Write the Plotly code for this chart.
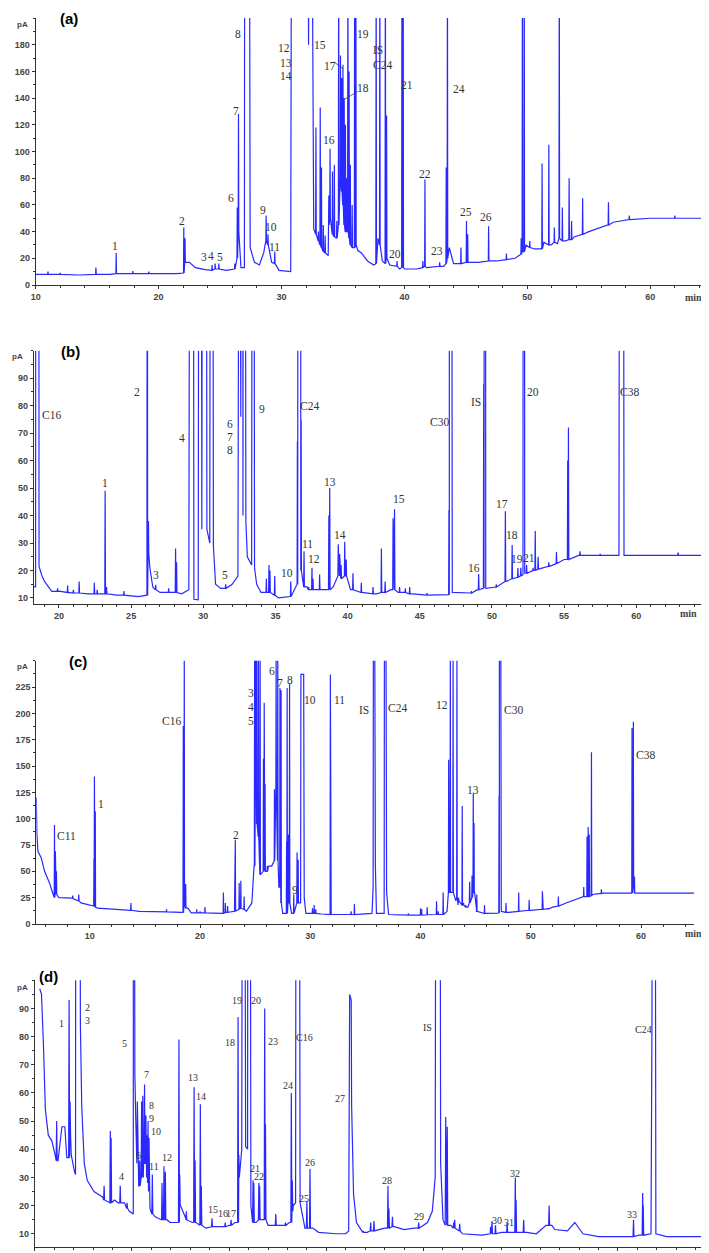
import plotly.graph_objects as go

W, H = 709, 1253
LINE_COLOUR = "rgb(40,40,255)"
AXIS_COLOUR = "#333333"
TICK_FONT = dict(family="Liberation Sans", size=9, color="#444444", weight="bold")
LABEL_FONT = "Liberation Serif"
OFF = 260  # anything above the top of an axis is clipped

# ---------------- panel (a) ----------------
# baseline points (time, signal)
a_bl_t = [10.0, 13.5, 16.0, 18.5, 21.5, 22.5, 23.0, 23.8, 25.5, 26.7,
          26.98, 27.0, 27.4, 27.45, 27.8, 28.2, 28.55, 29.2, 29.8, 30.7,
          30.75, 30.8, 32.5, 32.62, 32.7, 33.8, 36.2, 36.5, 37.0, 37.5,
          37.85, 38.2, 38.8, 39.6, 40.0, 41.0, 41.8, 43.2, 43.65, 44.0,
          45.4, 46.0, 47.5, 49.0, 49.9, 50.6, 51.35, 51.95, 52.45, 53.1,
          53.8, 55.0, 56.0, 57.0, 58.0, 60.0, 64.7]
a_bl_y = [8, 7.5, 8, 8.5, 8.5, 17, 13, 11.5, 11, 13,
          13, OFF, OFF, 28, 17, 15, 24, 17, 11, 10,
          10, OFF, OFF, 42, 40, 22, 26, 24, 18, 15,
          35, 18, 15, 12, 12, 12, 13, 14, 28, 16,
          17, 17, 18, 20, 30, 27, 32, 30, 31, 33,
          36, 40, 43, 47, 49, 50, 50]
# peaks (time, foot, apex)
a_pk_t = [11.0, 12.0, 14.9, 16.55, 17.9, 19.2, 22.05, 22.15, 24.35, 24.6,
          24.9, 26.2, 26.4, 26.5, 28.75, 28.9, 29.45, 32.2, 32.8, 33.0,
          33.15, 33.25, 33.4, 33.55, 33.85, 33.95, 34.15, 34.3, 34.5, 34.65,
          34.8, 34.9, 35.0, 35.1, 35.2, 35.3, 35.4, 35.5, 35.6, 35.75,
          35.95, 36.05, 37.7, 38.0, 38.45, 38.55, 39.4, 39.8, 39.9, 41.5,
          41.67, 42.87, 43.4, 43.5, 44.6, 45.05, 45.15, 46.85, 48.3, 49.5,
          49.6, 49.75, 50.2, 51.2, 51.75, 52.2, 52.6, 52.85, 53.4, 53.6,
          54.5, 56.6, 58.3, 62.0]
a_pk_base = [8, 8, 8, 8.5, 8.5, 8.5, 9, 17, 11, 12,
             12, 12, 20, 40, 33, 30, 16, OFF, 38, 33,
             30, 28, 25, 24, 45, 50, 38, 36, 35, 45,
             80, 70, 60, 45, 40, 40, 40, 35, 30, 28,
             28, 30, 16, 30, 16, 20, 14, 13, 13, 13,
             14, 14, 16, 20, 16, 17, 17, 18, 19, 23,
             25, 25, 28, 27, 30, 32, 35, 33, 34, 34,
             38, 45, 49, 50]
a_pk_apex = [10, 9, 13, 24, 10.5, 10, 43, 35, 15, 16,
             16, 16, 58, 128, 52, 38, 25, 180, 118, 40,
             133, 88, 45, 37, 67, 102, 85, 90, 48, OFF,
             172, 155, 165, 140, 120, 80, OFF, 160, 90, 60,
             OFF, OFF, OFF, OFF, OFF, 127, 18, OFF, OFF, 18,
             79, 17, 88, OFF, 28, 48, 38, 44, 23.5, 35,
             OFF, OFF, 33, 91, 105, 43, OFF, 58, 80, 48,
             65, 62, 52, 52]
a_lbl = ["1", "2", "3", "4", "5", "6", "7", "8", "9", "10", "11", "12", "13", "14",
         "15", "16", "17", "18", "19", "IS", "C24", "20", "21", "22", "23", "24", "25", "26"]
a_lbl_t = [16.45, 21.9, 23.72, 24.27, 25.03, 25.93, 26.26, 26.42, 28.51, 29.17,
           29.39, 30.2, 30.34, 30.34, 33.12, 33.88, 33.94, 36.6, 36.6, 37.83,
           38.24, 39.27, 40.2, 41.64, 42.68, 44.45, 44.97, 46.63]
a_lbl_y = [29.5, 47.8, 20.8, 21.5, 20.8, 65.3, 130.3, 187.8, 56.5, 43.3,
           28.5, 177.3, 166.5, 156.5, 179.5, 108.5, 164, 147.3, 187.8, 175.8,
           164.8, 23.3, 149.8, 83.5, 25.3, 146.5, 54.8, 51]
a_xticks = [10, 20, 30, 40, 50, 60]
a_yticks = [0, 20, 40, 60, 80, 100, 120, 140, 160, 180]

# ---------------- panel (b) ----------------
b_bl_t = [18.25, 18.38, 18.4, 18.6, 18.62, 18.8, 19.0, 19.5, 20.0, 22.0,
          24.0, 25.5, 26.0, 26.3, 26.5, 27.0, 28.5, 29.0, 29.08, 29.3,
          29.35, 29.65, 29.7, 29.85, 29.9, 29.95, 30.2, 30.25, 30.45, 30.5,
          30.65, 30.7, 30.85, 31.2, 32.0, 32.4, 32.5, 32.9, 32.95, 33.05,
          33.35, 33.4, 33.5, 33.55, 33.7, 34.0, 35.2, 36.0, 36.5, 36.55,
          36.75, 36.8, 37.2, 37.8, 38.6, 39.0, 39.3, 39.9, 40.2, 41.0,
          42.0, 43.0, 43.5, 44.5, 45.5, 47.0, 47.05, 47.2, 47.25, 48.2,
          49.0, 49.45, 49.47, 49.55, 49.57, 50.3, 51.0, 52.15, 52.17, 52.25,
          52.27, 53.0, 54.0, 55.0, 56.0, 58.8, 58.85, 59.1, 59.15, 64.9]
b_bl_y = [14, 14, OFF, OFF, 21.5, 18.4, 16, 12.4, 12.5, 11.5,
          11, 10.5, 11, 21, 14, 12, 11.5, 13, OFF, OFF,
          9.5, 9.3, OFF, OFF, 35, OFF, OFF, 35, 30, OFF,
          OFF, 29, 15, 13.5, 15, 18, OFF, OFF, 38, 25,
          22, OFF, OFF, 21, 15, 12, 10, 10.5, 15, OFF,
          OFF, 20, 14, 13, 13, 14, 18, 18, 13, 12,
          11.5, 13, 12, 11.5, 11, 11.2, OFF, OFF, 12, 11.8,
          13, 13.5, OFF, OFF, 13.5, 14, 16, 18.5, OFF, OFF,
          19, 20, 21.5, 24, 25.5, 25.5, OFF, OFF, 25.5, 25.5]
b_pk_t = [19.9, 20.6, 21.0, 21.4, 22.45, 22.65, 23.2, 23.3, 24.5, 26.12,
          26.2, 26.7, 27.6, 28.08, 28.15, 31.55, 32.6, 32.75, 34.37, 34.55,
          34.62, 34.95, 36.06, 36.52, 36.78, 36.98, 37.3, 37.53, 37.6, 38.06,
          38.7, 38.76, 39.35, 39.45, 39.55, 39.8, 39.9, 40.37, 40.95, 41.76,
          42.34, 42.6, 43.15, 43.25, 43.6, 44.0, 44.3, 45.5, 47.02, 48.57,
          49.08, 49.43, 50.3, 50.93, 51.4, 51.8, 52.0, 52.4, 52.85, 53.0,
          53.2, 53.94, 54.47, 55.25, 55.3, 56.1, 57.5, 62.9]
b_pk_base = [12.4, 12, 11.8, 11.8, 11.5, 11.5, 11.5, 11.5, 11, 11,
             26, 13, 12, 12, 12, 13.5, OFF, OFF, 12, 12,
             12, 11, 10.5, 15, 20, 14, 13, 13, 13, 13,
             13, 13, 18, 18, 17, 18, 18, 13, 12, 11.5,
             12, 12, 13, 13, 12, 12, 11.5, 11, 11.2, 11.8,
             13, 13.5, 14, 16, 17, 17.5, 18, 19, 20, 20,
             20.5, 21.5, 22.5, 24, 24, 25.5, 25.5, 25.5]
b_pk_apex = [13.5, 14.5, 13, 16, 15.5, 13, 49, 14, 12.5, OFF,
             38, 14.8, 13.5, 28, 23, 15, 76, 40, 17, 22,
             20, 18, 16, 67, 75, 27, 14, 21, 17, 18.5,
             40, 50, 29.5, 26, 22, 30.5, 24, 19, 15.5, 14,
             28, 16, 39, 42.3, 14, 13.5, 14, 11.8, 42, 12.5,
             18.7, 88, 15, 41.6, 29.3, 20.9, 21, 22, 21, 34.4,
             25, 23, 26.7, 60, 72, 27, 26, 26.5]
b_lbl = ["C16", "1", "2", "3", "4", "5", "6", "7", "8", "9", "10", "C24", "11",
         "12", "13", "14", "15", "C30", "16", "IS", "17", "18", "19", "21", "20", "C38"]
b_lbl_t = [19.47, 23.17, 25.4, 26.74, 28.55, 31.48, 31.87, 31.87, 31.87, 34.07,
           35.82, 37.37, 37.19, 37.67, 38.76, 39.5, 43.54, 46.38, 48.76, 48.92,
           50.7, 51.42, 51.77, 52.55, 52.85, 59.5]
b_lbl_y = [76.7, 52, 84.9, 18.2, 68.3, 18.2, 73.4, 68.6, 63.7, 78.6,
           19, 79.8, 29.6, 24.2, 52.3, 32.9, 45.9, 74.2, 20.9, 81.3,
           44.2, 32.9, 24.1, 24.5, 85.1, 85.1]
b_xticks = [20, 25, 30, 35, 40, 45, 50, 55, 60]
b_yticks = [10, 20, 30, 40, 50, 60, 70, 80, 90]

# ---------------- panel (c) ----------------
c_bl_t = [5.15, 5.2, 5.3, 5.6, 5.9, 6.35, 6.65, 7.2, 8.0, 8.5,
          9.2, 9.8, 10.7, 12.0, 13.0, 14.5, 16.0, 18.3, 18.9, 19.2,
          22.0, 24.2, 24.7, 24.9, 25.5, 26.2, 26.5, 27.15, 27.5, 28.3,
          29.12, 29.15, 29.4, 29.45, 29.6, 30.0, 31.0, 33.0, 35.6, 35.7,
          35.72, 35.85, 35.9, 36.0, 36.7, 36.72, 36.87, 36.92, 37.1, 39.0,
          42.0, 42.4, 42.6, 43.2, 43.4, 44.3, 44.5, 44.9, 45.1, 46.0,
          47.1, 47.15, 47.28, 47.32, 48.0, 50.0, 52.0, 53.2, 54.7, 55.6,
          56.5, 64.8]
c_bl_y = [120, 86, 69, 62.7, 50, 39, 29, 25, 24.7, 24,
          20, 18.4, 15, 14, 13, 12, 11.5, 11, 15, 10.5,
          10, 12, 20, 55, 47, 55, 55, 35, 10, 10,
          20, 237, 237, 25, 10, 10, 9.5, 9, 10, 36,
          OFF, OFF, 56, 10, 10, OFF, OFF, 30, 9, 8.5,
          9, 12, 30, 22, 18, 16, 20, 30, 12, 10,
          10.4, OFF, OFF, 12, 11, 13, 16, 20, 26, 28,
          29.4, 29.4]
c_pk_t = [6.8, 6.88, 6.98, 8.45, 9.0, 10.38, 10.42, 10.5, 13.73, 16.96,
          18.48, 18.57, 18.7, 19.7, 20.0, 20.45, 22.12, 22.3, 22.5, 23.15,
          23.2, 23.55, 23.7, 24.0, 24.95, 25.05, 25.15, 25.3, 25.45, 25.75,
          25.82, 25.9, 26.1, 26.75, 26.9, 27.05, 27.25, 27.35, 27.85, 27.9,
          28.0, 28.12, 28.5, 28.8, 28.9, 30.2, 30.35, 30.5, 31.82, 31.87,
          33.7, 34.0, 38.9, 40.0, 40.1, 40.6, 41.45, 41.6, 42.05, 42.55,
          42.7, 42.95, 43.3, 43.45, 43.78, 43.9, 44.1, 44.45, 44.67, 44.78,
          44.85, 45.1, 45.8, 47.12, 47.75, 48.9, 49.85, 51.05, 51.1, 51.6,
          52.5, 54.8, 55.1, 55.2, 55.3, 55.5, 56.4, 59.18, 59.3, 59.4]
c_pk_base = [25, 30, 28, 24.5, 22, 17, 17, 16, 13, 11.5,
             11, 20, 15, 10.5, 10.5, 10.5, 10, 11, 11, 12,
             12, 14, 15, 14, 55, 168, 95, 83, 47, 50,
             60, 50, 50, 60, 128, 60, 35, 20, 10, 10,
             20, 20, 10, 20, 20, 10, 10, 10, 9, 9,
             9, 9, 8.5, 8.5, 8.5, 8.8, 9, 9, 9, 30,
             30, 30, 25, 22, 18, 18, 16, 20, 25, 30,
             30, 12, 10, 10.4, 11, 12, 13, 14, 14, 14.5,
             17, 26, 26, 26, 26, 27, 29, 29.4, 40, 29.4]
c_pk_apex = [94, 69, 50, 27, 28, 62, 140, 107, 20, 14,
             188, OFF, 38, 14, 12, 16, 30, 20, 17, 47,
             80, 39, 41, 26, OFF, OFF, OFF, OFF, OFF, 157,
             210, 133, 55, 128, OFF, OFF, 224, 222, 78, 224,
             85, 228, 28, 68, 61, 15, 18, 14, 237, 237,
             12, 19, 10, 15, 14, 16, 21.5, 12, 30, 156,
             OFF, OFF, OFF, 25, 112, 20, 18, 40, 46, 124,
             96, 28, 18, 122, 20, 30, 23, 31, 30, 14,
             26, 35, 83, 92, 85, 163, 33, 186, 192, 45]
c_lbl = ["C11", "1", "C16", "2", "3", "4", "5", "6", "7", "8", "9", "10", "11",
         "IS", "C24", "12", "13", "C30", "C38"]
c_lbl_t = [7.87, 11.06, 17.42, 23.24, 24.63, 24.63, 24.63, 26.51, 27.27, 28.18,
           28.57, 30.0, 32.64, 34.85, 37.88, 41.97, 44.78, 48.39, 60.39]
c_lbl_y = [83.2, 114.2, 192.4, 84.8, 219.3, 206, 193, 240, 228.8, 232,
           32.6, 212.4, 213, 203.5, 205, 208.2, 127.5, 203.5, 160.2]
c_xticks = [10, 20, 30, 40, 50, 60]
c_yticks = [0, 25, 50, 75, 100, 125, 150, 175, 200, 225]

# ---------------- panel (d) ----------------
d_bl_t = [5.26, 5.35, 5.45, 5.55, 5.7, 5.88, 6.05, 6.2, 6.4, 6.55,
          6.65, 6.88, 7.05, 7.1, 7.12, 7.3, 7.35, 7.42, 7.55, 7.7,
          8.05, 8.5, 8.8, 9.1, 9.3, 9.62, 9.87, 10.07, 10.08, 10.12,
          10.15, 10.2, 10.35, 10.45, 10.6, 10.8, 10.93, 11.2, 11.5, 11.8,
          11.96, 12.3, 12.5, 12.8, 13.1, 13.3, 13.6, 13.8, 14.5, 15.0,
          15.3, 15.65, 15.7, 15.78, 15.85, 15.95, 15.97, 16.07, 16.12, 16.4,
          16.7, 17.0, 17.5, 18.1, 18.3, 18.42, 18.45, 18.6, 18.65, 18.9,
          19.3, 19.6, 20.5, 21.0, 21.15, 21.2, 21.28, 21.3, 21.4, 21.55,
          22.1, 23.0, 23.5, 24.0, 24.5, 25.2, 25.45, 25.6, 25.65, 25.83,
          25.88, 26.0, 26.4, 27.0, 28.0, 28.4, 29.0, 30.3, 30.8, 31.3,
          31.6, 31.75, 32.4, 32.78, 33.2, 34.0, 35.5, 36.1, 36.7, 36.75,
          36.77, 36.9, 36.95, 37.5, 40.0]
d_bl_y = [97, 95, 77, 54, 45, 43, 38, 36, 48, 48,
          37, 38, 32, 31, OFF, OFF, 84, 55, 35, 29,
          25, 23, 21, 22, 21, 21, 18, 17, OFF, OFF,
          67, 50, 27, 30, 35, 30, 19, 16, 15, 15,
          14, 14, 20, 15, 14, 14, 13, 12, 12.5, 13,
          14, 40, OFF, OFF, 41, 40, OFF, OFF, 20, 14,
          15, 13, 13, 14, 20, 21, OFF, OFF, 21, 12,
          12, 10.5, 10, 10, 11, 95, 93, 56, 24, 14,
          10.5, 12, 12.5, 11.5, 12, 14, 18, 30, OFF, OFF,
          35, 15, 13, 10, 9.5, 10, 10.5, 10.5, 10, 13,
          13, 11.5, 11, 14, 10, 9, 9, 9.5, 10, 87,
          OFF, OFF, 10, 9, 9]
d_pk_t = [6.13, 6.77, 6.82, 8.57, 8.89, 8.93, 9.4, 9.75, 10.28, 10.4,
          10.5, 10.56, 10.65, 10.72, 10.78, 10.83, 10.88, 11.05, 11.55, 11.65,
          11.72, 12.42, 12.46, 12.8, 13.2, 13.25, 13.52, 13.57, 14.12, 14.8,
          15.1, 15.46, 15.5, 16.23, 16.27, 16.53, 16.57, 16.83, 16.87, 17.4,
          17.9, 18.2, 18.25, 19.0, 19.16, 21.9, 22.28, 22.45, 23.17, 23.22,
          23.4, 24.75, 26.14, 26.22, 26.55, 26.6, 26.86, 28.45, 28.52, 28.7,
          29.3, 29.72, 29.76, 30.15, 31.46, 35.8, 36.27, 36.3, 39.67]
d_pk_base = [36, 37, 45, 22, 21, 21, 21, 19, 35, 27,
             30, 30, 35, 35, 30, 28, 25, 17, 15, 15,
             15, 14, 20, 15, 14, 14, 13, 13, 12.5, 12.5,
             13, 14, 30, 14, 14, 15, 15, 15, 15, 13,
             13, 14, 18, 12, 12, 10.5, 11, 11, 12, 12,
             12.5, 12, 13, 13, 12, 12, 11, 10, 10, 10,
             10.5, 10.5, 10.5, 10.5, 13, 9, 9.5, 9.5, 9]
d_pk_apex = [50, 93, 57, 27, 46.5, 44, 27, 21, 57, 36,
             57, 59, 63, 52, 45, 50, 44, 31, 28, 34,
             32, 79, 31, 18, 62, 36, 56, 27, 15.5, 14,
             15, 87, 38, 29, 28, 28, 27, 90, 49, 17,
             14, 60, 29, 21.5, 33, 11, 14, 14.5, 27, 19,
             16, 14, 51.5, 48, 14, 15, 13.5, 12.5, 14.5, 13,
             14, 30, 22, 15, 20, 15, 24.5, 20, 10]
d_lbl = ["1", "2", "3", "4", "5", "6", "7", "8", "9", "10", "11", "12", "13", "14",
         "15", "16", "17", "18", "19", "20", "21", "22", "23", "24", "C16", "25",
         "26", "27", "28", "29", "IS", "30", "31", "32", "33", "C24"]
d_lbl_t = [6.37, 7.71, 7.71, 9.49, 9.63, 10.35, 10.74, 11.03, 11.03, 11.22,
           11.14, 11.8, 13.14, 13.54, 14.17, 14.69, 15.11, 15.03, 15.39, 16.4,
           16.32, 16.52, 17.26, 18.03, 18.89, 18.85, 19.18, 20.72, 23.14, 24.77,
           25.2, 28.78, 29.4, 29.69, 35.73, 36.29]
d_lbl_y = [84.7, 90.4, 85.7, 30.4, 77.4, 37.7, 66.6, 55.7, 51, 46.3,
           33.9, 37.1, 65.5, 58.7, 18.5, 17.1, 17.3, 78, 92.8, 93,
           33, 30.4, 78.2, 62.8, 79.6, 22.7, 35.3, 58.1, 28.9, 16.2,
           83.2, 14.8, 14, 31.3, 16.7, 82.7]
d_xticks = [5, 10, 15, 20, 25, 30, 35]
d_yticks = [10, 20, 30, 40, 50, 60, 70, 80, 90]


def trace_points(bl_t, bl_y, pk_t, pk_base, pk_apex, half_width=0.025):
    """Merge baseline points and narrow peaks into one polyline."""
    pts = [(t, 0, y, y) for t, y in zip(bl_t, bl_y)]
    pts += [(t, 1, b, a) for t, b, a in zip(pk_t, pk_base, pk_apex)]
    pts.sort(key=lambda p: (p[0], p[1]))
    xs, ys = [], []
    for t, kind, base, apex in pts:
        if kind == 0:
            xs.append(t)
            ys.append(base)
        else:
            xs += [t - half_width, t, t + half_width]
            ys += [base, apex, base]
    return xs, ys


def px(x):
    return x / W


def py(y):
    return 1 - y / H


panels = [
    dict(key="a", bl=(a_bl_t, a_bl_y), pk=(a_pk_t, a_pk_base, a_pk_apex),
         lbl=(a_lbl, a_lbl_t, a_lbl_y), xr=[10, 64.7], yr=[0, 200],
         xd=(27.7, 700), yd=(10, 277), xt=a_xticks, yt=a_yticks, xm=2, ym=10,
         size=11.5, letter=(61, 11), pa=(15, 16), mn=(685, 289)),
    dict(key="b", bl=(b_bl_t, b_bl_y), pk=(b_pk_t, b_pk_base, b_pk_apex),
         lbl=(b_lbl, b_lbl_t, b_lbl_y), xr=[18.25, 64.9], yr=[7.8, 100],
         xd=(25.7, 699), yd=(342.7, 596), xt=b_xticks, yt=b_yticks, xm=1, ym=5,
         size=11.5, letter=(62, 343), pa=(9, 348), mn=(680, 605)),
    dict(key="c", bl=(c_bl_t, c_bl_y), pk=(c_pk_t, c_pk_base, c_pk_apex),
         lbl=(c_lbl, c_lbl_t, c_lbl_y), xr=[5.15, 64.8], yr=[0, 250],
         xd=(28.3, 686), yd=(652.7, 916), xt=c_xticks, yt=c_yticks, xm=2, ym=12.5,
         size=11.5, letter=(70, 653), pa=(15, 658), mn=(685, 925)),
    dict(key="d", bl=(d_bl_t, d_bl_y), pk=(d_pk_t, d_pk_base, d_pk_apex),
         lbl=(d_lbl, d_lbl_t, d_lbl_y), xr=[5, 39.94], yr=[5.3, 100],
         xd=(26.7, 706), yd=(972.3, 1239), xt=d_xticks, yt=d_yticks, xm=1, ym=5,
         size=10, letter=(40, 968), pa=(15, 980), mn=(692, 1248)),
]

fig = go.Figure()
annotations = []
shapes = []
layout = {}

for i, p in enumerate(panels, start=1):
    suffix = "" if i == 1 else str(i)
    xref, yref = f"x{suffix}", f"y{suffix}"
    xs, ys = trace_points(*p["bl"], *p["pk"])
    fig.add_trace(go.Scatter(
        x=xs, y=ys, mode="lines", xaxis=xref, yaxis=yref,
        line=dict(color=LINE_COLOUR, width=1.2), hoverinfo="skip", showlegend=False,
    ))

    axis_common = dict(
        showline=True, linecolor=AXIS_COLOUR, linewidth=1, showgrid=False,
        zeroline=False, ticks="outside", ticklen=3, tickcolor=AXIS_COLOUR,
        tickfont=TICK_FONT, automargin=False, fixedrange=True,
    )
    layout[f"xaxis{suffix}"] = dict(
        axis_common, domain=[px(p["xd"][0]), px(p["xd"][1])], range=p["xr"],
        anchor=yref, tickmode="array", tickvals=p["xt"],
        ticktext=[str(v) for v in p["xt"]],
        minor=dict(dtick=p["xm"], tick0=0, ticks="outside", ticklen=2,
                   tickcolor=AXIS_COLOUR),
    )
    layout[f"yaxis{suffix}"] = dict(
        axis_common, domain=[py(p["yd"][1]), py(p["yd"][0])], range=p["yr"],
        anchor=xref, tickmode="array", tickvals=p["yt"],
        ticktext=[str(v) for v in p["yt"]],
        minor=dict(dtick=p["ym"], tick0=0, ticks="outside", ticklen=2,
                   tickcolor=AXIS_COLOUR),
    )

    # peak labels
    for text, t, v in zip(*p["lbl"]):
        annotations.append(dict(
            x=t, y=v, xref=xref, yref=yref, text=text, showarrow=False,
            xanchor="center", yanchor="middle",
            font=dict(family=LABEL_FONT, size=p["size"], color="#333333"),
        ))

    # panel letter, unit and time labels
    annotations.append(dict(
        x=px(p["letter"][0]), y=py(p["letter"][1]), xref="paper", yref="paper",
        text=f"<b>({p['key']})</b>", showarrow=False, xanchor="center",
        yanchor="middle", font=dict(family="Liberation Sans", size=15, color="black"),
    ))
    annotations.append(dict(
        x=px(p["pa"][0]), y=py(p["pa"][1]), xref="paper", yref="paper",
        text="<b>pA</b>", showarrow=False, xanchor="center", yanchor="middle",
        font=dict(family="Liberation Sans", size=8, color="#444444"),
    ))
    annotations.append(dict(
        x=px(p["mn"][0]), y=py(p["mn"][1]), xref="paper", yref="paper",
        text="<b>min</b>", showarrow=False, xanchor="center", yanchor="middle",
        font=dict(family=LABEL_FONT, size=10, color="#444444"),
    ))

# leader lines for labels 17 and 18 in panel (a)
shapes.append(dict(type="line", xref="x", yref="y", x0=34.3, y0=167, x1=35.0,
                   y1=162, line=dict(color="#444444", width=0.8)))
shapes.append(dict(type="line", xref="x", yref="y", x0=35.1, y0=139, x1=36.2,
                   y1=145, line=dict(color="#444444", width=0.8)))

fig.update_layout(
    layout,
    width=W, height=H,
    margin=dict(l=0, r=0, t=0, b=0),
    paper_bgcolor="white", plot_bgcolor="white",
    showlegend=False,
    annotations=annotations,
    shapes=shapes,
)

fig.write_html("out.html")
